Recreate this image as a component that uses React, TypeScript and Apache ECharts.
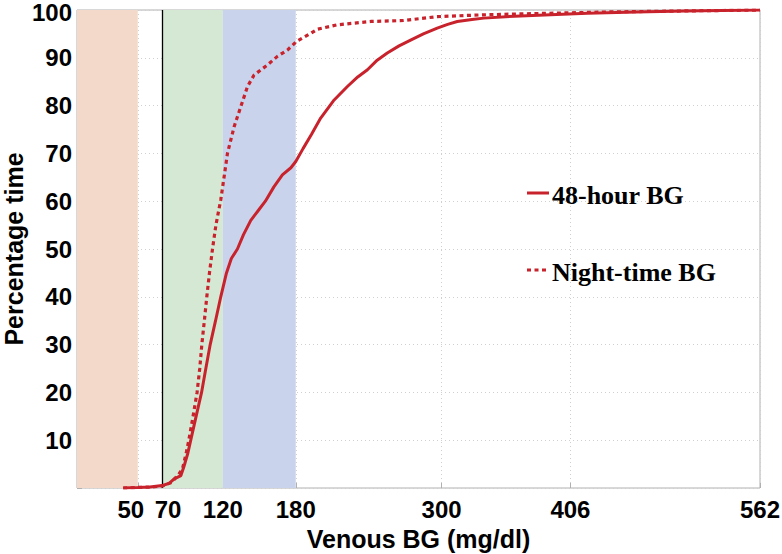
import React, { useEffect, useRef } from "react";
import * as echarts from "echarts";

const xTickValues = [50, 70, 120, 180, 300, 406, 562];

const allBgX = [38, 50, 60, 70, 76, 80, 85.5, 88, 91, 93.6, 98, 102.5, 106, 109.6, 114, 118.3, 123, 127, 132, 137, 143, 149, 155, 162, 169, 176, 180, 186, 193, 200.5, 211, 222.5, 231, 239, 247, 255.3, 265, 274.5, 285, 296.4, 305, 312.9, 325, 334.7, 360, 389.6, 420, 460, 500, 562];
const allBgY = [0, 0.1, 0.2, 0.5, 1, 1.9, 2.6, 4.5, 7.1, 10, 15, 20, 25, 30, 35, 40, 45, 48, 50, 53, 56, 58, 60, 63, 65.5, 67, 68.3, 71, 74, 77.4, 81, 84, 86, 87.5, 89.5, 91, 92.5, 93.7, 95, 96.2, 97, 97.6, 98, 98.3, 98.7, 99, 99.3, 99.6, 99.8, 100];

const nightBgX = [38, 60, 70, 78, 84, 86.8, 90, 92, 95.5, 98.8, 101, 102.7, 104.8, 106.8, 109, 111.5, 114.3, 118.3, 121, 123.8, 129.3, 134.8, 140.3, 145.7, 156.7, 164.9, 173.1, 180.5, 192.3, 198, 214, 241.6, 268.7, 296, 334.5, 386.8, 440, 500, 562];
const nightBgY = [0, 0.2, 0.4, 1.2, 3, 4, 7.5, 10, 15, 20, 25, 30, 35, 40, 45, 50, 55, 60.3, 65, 70, 75.6, 79.8, 84, 86.4, 88.5, 90.3, 91.6, 93.4, 95.1, 96, 96.9, 97.6, 97.8, 98.6, 99, 99.3, 99.6, 99.8, 100];

const bandRanges = [
  [0, 50],
  [70, 120],
  [120, 180],
];
const bandColors = ["#f3d9ca", "#d4e8d3", "#c9d4ec"];
const thresholdLine = 70;

const seriesNames = ["48-hour BG", "Night-time BG"];
const red = "#c8232c";
const nightDash = [4, 3.5];

export default function App() {
  const ref = useRef<HTMLDivElement>(null);
  useEffect(() => {
    if (!ref.current) return;
    const chart = echarts.init(ref.current, null, { renderer: "svg" });
    const sans = "'Liberation Sans', Arial, sans-serif";
    const serif = "'Liberation Serif', 'Times New Roman', serif";
    const tickFont = { fontFamily: sans, fontWeight: "bold", fontSize: 24, color: "#000" };
    const legendText = {
      fontFamily: serif,
      fontWeight: "bold",
      fontSize: 26,
      fill: "#000",
      verticalAlign: "middle",
      align: "left",
    };
    chart.setOption({
      animation: false,
      grid: {
        left: 77,
        top: 10,
        right: 22,
        bottom: 66,
        show: true,
        borderColor: "#b0b0b0",
        borderWidth: 1,
        containLabel: false,
        outerBoundsMode: "none",
      },
      graphic: [
        {
          type: "line",
          shape: { x1: 527, y1: 193, x2: 549, y2: 193 },
          style: { stroke: red, lineWidth: 3 },
          z: 10,
        },
        {
          type: "text",
          x: 552,
          y: 195,
          style: { ...legendText, text: seriesNames[0] },
          z: 10,
        },
        {
          type: "line",
          shape: { x1: 527, y1: 270, x2: 549, y2: 270 },
          style: { stroke: red, lineWidth: 3, lineDash: nightDash },
          z: 10,
        },
        {
          type: "text",
          x: 552,
          y: 272,
          style: { ...legendText, text: seriesNames[1] },
          z: 10,
        },
      ],
      xAxis: {
        type: "value",
        min: 0,
        max: 562,
        name: "Venous BG (mg/dl)",
        nameLocation: "middle",
        nameGap: 38,
        nameMoveOverlap: false,
        nameTextStyle: { fontFamily: sans, fontWeight: "bold", fontSize: 25, color: "#000" },
        axisLine: { show: false },
        axisTick: { show: true, inside: true, length: 5, lineStyle: { color: "#b0b0b0" }, customValues: xTickValues },
        axisLabel: {
          customValues: xTickValues,
          margin: 9,
          ...tickFont,
          formatter: (v: number) => (v === 50 ? "{l|50}" : v === 70 ? "{r|70}" : String(v)),
          rich: {
            l: { ...tickFont, padding: [0, 14, 0, 0] },
            r: { ...tickFont, padding: [0, 0, 0, 12] },
          },
        },
        splitLine: { show: true, lineStyle: { color: "#d0d0d0", type: [1, 3], width: 1 } },
      },
      yAxis: {
        type: "value",
        min: 0,
        max: 100,
        interval: 10,
        name: "Percentage time",
        nameLocation: "middle",
        nameGap: 51,
        nameMoveOverlap: false,
        nameTextStyle: { fontFamily: sans, fontWeight: "bold", fontSize: 25, color: "#000" },
        axisLine: { show: false },
        axisTick: { show: true, inside: true, length: 5, lineStyle: { color: "#b0b0b0" } },
        axisLabel: {
          margin: 5,
          ...tickFont,
          formatter: (v: number) => (v === 0 ? "" : v === 100 ? "{t|100}" : String(v)),
          rich: {
            t: { ...tickFont, padding: [5, 0, 0, 0] },
          },
        },
        splitLine: { show: true, lineStyle: { color: "#d0d0d0", type: [1, 3], width: 1 } },
      },
      series: [
        {
          name: seriesNames[0],
          type: "line",
          symbol: "none",
          data: allBgX.map((x, i) => [x, allBgY[i]]),
          lineStyle: { color: red, width: 3, type: "solid" },
          itemStyle: { color: red },
          z: 5,
          markArea: {
            silent: true,
            itemStyle: { opacity: 1 },
            data: bandRanges.map((r, i) => [
              { xAxis: r[0], itemStyle: { color: bandColors[i] } },
              { xAxis: r[1] },
            ]),
          },
          markLine: {
            silent: true,
            symbol: "none",
            label: { show: false },
            lineStyle: { color: "#000", width: 1.3, type: "solid" },
            data: [{ xAxis: thresholdLine }],
          },
        },
        {
          name: seriesNames[1],
          type: "line",
          symbol: "none",
          data: nightBgX.map((x, i) => [x, nightBgY[i]]),
          lineStyle: { color: red, width: 3.2, type: nightDash },
          itemStyle: { color: red },
          z: 6,
        },
      ],
    });
    return () => chart.dispose();
  }, []);
  return <div ref={ref} style={{ position: "absolute", left: 0, top: 0, width: 782, height: 554 }} />;
}
